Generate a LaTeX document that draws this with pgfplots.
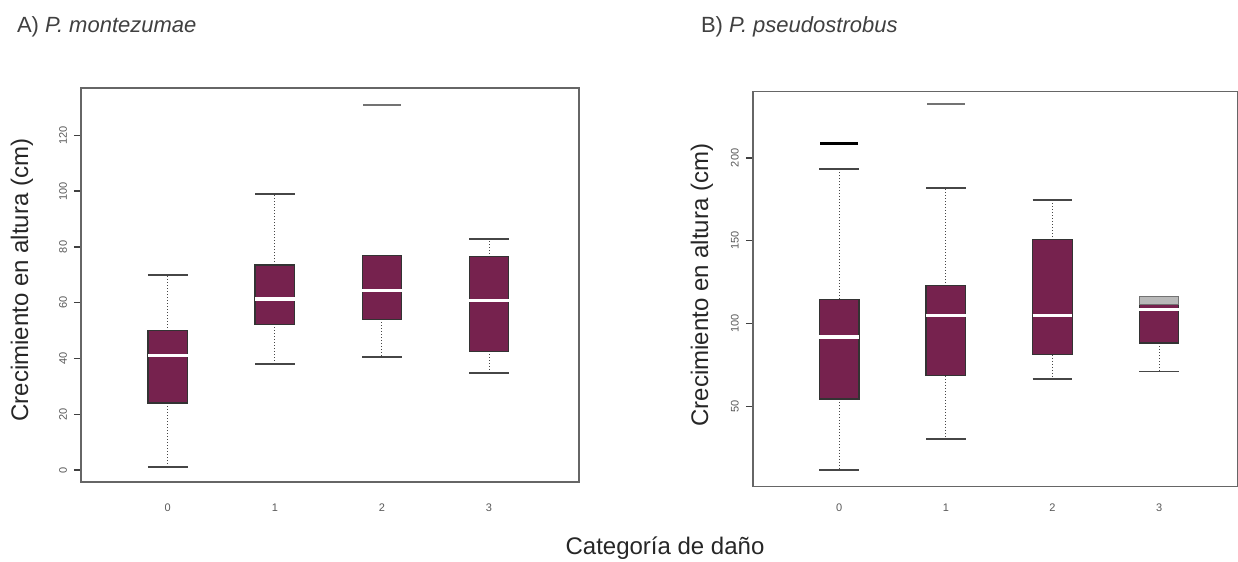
\documentclass[border=0pt]{standalone}
\usepackage{pgfplots}
\pgfplotsset{compat=1.18}
\usepgfplotslibrary{statistics}
\usepackage{fontspec}
\setmainfont{Liberation Sans}

\definecolor{boxc}{RGB}{118,34,78}
\definecolor{whiskc}{RGB}{70,70,70}

\pgfplotsset{
  % frame axis: box, ticks and tick labels only
  frame/.style={
    scale only axis,
    axis line style={black!60, line width=0.8pt},
    ytick pos=left,
    xtick pos=bottom,
    xtick={0,1,2,3},
    tick align=outside,
    major tick length=3.5pt,
    every y tick/.style={draw=black!75, line width=0.7pt},
    every x tick/.style={draw=none},
    /pgf/number format/assume math mode=true,
    ticklabel style={font=\fontsize{5.5}{6}\selectfont, text=black!65},
    yticklabel style={rotate=90, anchor=south},
  },
  % data axis: boxplots, no lines
  dmg/.style={
    scale only axis,
    hide axis,
    boxplot/draw direction=y,
    boxplot/box extend=0.37,
    boxplot/whisker extend=0.37,
    boxplot/every box/.style={fill=boxc, draw=black!80, line width=0.6pt},
    boxplot/every median/.style={draw=white, line width=1.6pt},
    boxplot/draw/lower whisker/.code={%
      \draw[whiskc, densely dotted, line width=0.5pt]
        (boxplot box cs:\pgfplotsboxplotvalue{lower quartile},0.5)
        -- (boxplot box cs:\pgfplotsboxplotvalue{lower whisker},0.5);
      \draw[whiskc, line width=0.9pt]
        (boxplot whisker cs:\pgfplotsboxplotvalue{lower whisker},0)
        -- (boxplot whisker cs:\pgfplotsboxplotvalue{lower whisker},1);
    },
    boxplot/draw/upper whisker/.code={%
      \draw[whiskc, densely dotted, line width=0.5pt]
        (boxplot box cs:\pgfplotsboxplotvalue{upper quartile},0.5)
        -- (boxplot box cs:\pgfplotsboxplotvalue{upper whisker},0.5);
      \draw[whiskc, line width=0.9pt]
        (boxplot whisker cs:\pgfplotsboxplotvalue{upper whisker},0)
        -- (boxplot whisker cs:\pgfplotsboxplotvalue{upper whisker},1);
    },
  },
  geomA/.style={at={(40.5pt,40pt)}, anchor=south west,
    width=249pt, height=197pt, xmin=-0.81, xmax=3.84, ymin=-4.3, ymax=137},
  geomB/.style={at={(376.4pt,37.7pt)}, anchor=south west,
    width=242.6pt, height=197.5pt, xmin=-0.81, xmax=3.74, ymin=1.7, ymax=240},
  outl/.style={only marks, mark=-, mark size=9.5pt},
}

\begin{document}
\begin{tikzpicture}
\path[use as bounding box] (0,0) rectangle (619pt,281pt);

% A) P. montezumae
\begin{axis}[dmg, geomA]
\addplot[boxplot prepared={draw position=0, lower whisker=1, lower quartile=24,
  median=41, upper quartile=50, upper whisker=70}] coordinates {};
\addplot[boxplot prepared={draw position=1, lower whisker=38, lower quartile=52.3,
  median=61.3, upper quartile=73.5, upper whisker=99}] coordinates {};
\addplot[boxplot prepared={draw position=2, lower whisker=40.6, lower quartile=54,
  median=64.3, upper quartile=76.8, upper whisker=76.8}] coordinates {};
\addplot[boxplot prepared={draw position=3, lower whisker=34.9, lower quartile=42.6,
  median=60.7, upper quartile=76.5, upper whisker=82.8}] coordinates {};
\addplot[outl, mark options={black!55, line width=1pt}] coordinates {(2,131)};
\end{axis}
\begin{axis}[frame, geomA,
  ytick={0,20,40,60,80,100,120},
  xticklabel style={yshift=-4pt},
]
\end{axis}

% B) P. pseudostrobus
\begin{axis}[dmg, geomB]
\addplot[boxplot prepared={draw position=0, lower whisker=11.8, lower quartile=54.6,
  median=91.9, upper quartile=114.8, upper whisker=193.3}] coordinates {};
\addplot[boxplot prepared={draw position=1, lower whisker=30.5, lower quartile=68.5,
  median=105, upper quartile=122.9, upper whisker=181.9}] coordinates {};
\addplot[boxplot prepared={draw position=2, lower whisker=66.5, lower quartile=81.2,
  median=104.8, upper quartile=150.7, upper whisker=174.8}] coordinates {};
\addplot[boxplot prepared={draw position=3, lower whisker=71.1, lower quartile=88.3,
  median=108.4, upper quartile=116.4, upper whisker=116.4}] coordinates {};
\addplot[fill=gray!55, draw=black!55, line width=0.5pt]
  coordinates {(2.815,111.4) (3.185,111.4) (3.185,116.4) (2.815,116.4)} -- cycle;
\addplot[outl, mark options={black, line width=1.6pt}] coordinates {(0,208.6)};
\addplot[outl, mark options={black!55, line width=1pt}] coordinates {(1,232.6)};
\end{axis}
\begin{axis}[frame, geomB,
  ytick={50,100,150,200},
  xticklabel style={yshift=-1.5pt},
]
\end{axis}

\node[anchor=west, font=\fontsize{11}{13}\selectfont, text=black!75] at (5pt,267.5pt)
  {A) \textit{P. montezumae}};
\node[anchor=west, font=\fontsize{11}{13}\selectfont, text=black!75] at (347pt,267.5pt)
  {B) \textit{P. pseudostrobus}};
\node[rotate=90, font=\fontsize{12}{14}\selectfont, text=black!85] at (11pt,141pt)
  {Crecimiento en altura (cm)};
\node[rotate=90, font=\fontsize{12}{14}\selectfont, text=black!85] at (351pt,138.5pt)
  {Crecimiento en altura (cm)};
\node[font=\fontsize{12}{14}\selectfont, text=black!85] at (332.5pt,7pt)
  {Categoría de daño};
\end{tikzpicture}
\end{document}
